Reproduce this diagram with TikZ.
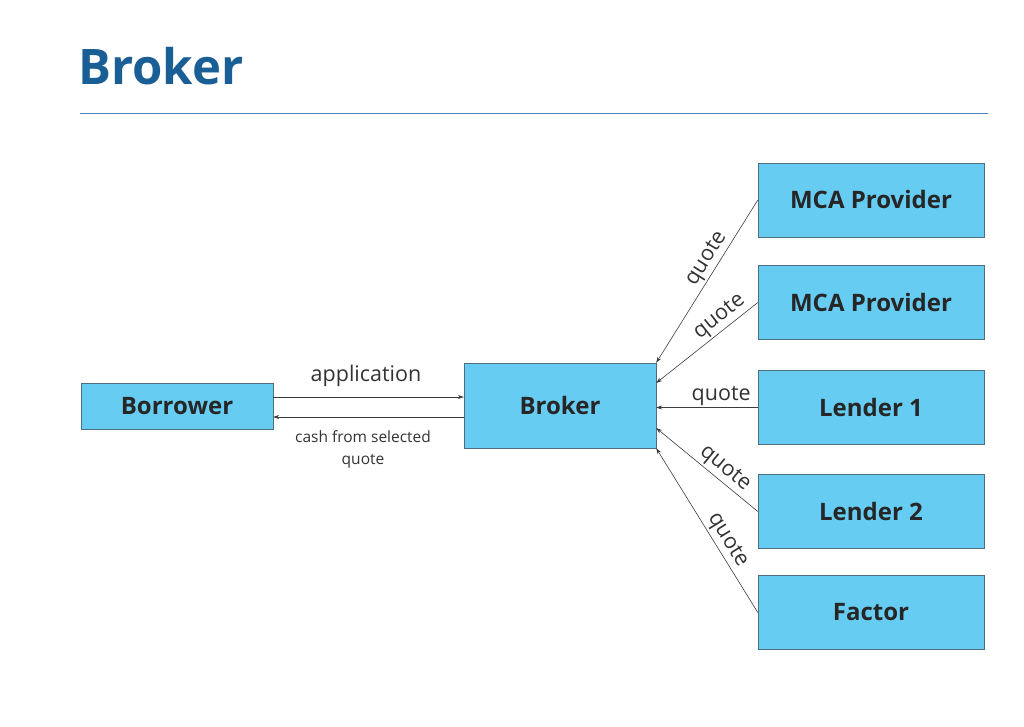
\documentclass[tikz,border=0pt]{standalone}
\usepackage{fontspec}
\setmainfont{Open Sans}
\usetikzlibrary{arrows.meta}
\definecolor{boxblue}{RGB}{102,204,242}
\definecolor{boxline}{RGB}{80,110,130}
\definecolor{titleblue}{RGB}{26,94,150}
\definecolor{ruleblue}{RGB}{70,130,185}
\definecolor{inkgray}{RGB}{60,60,60}
\begin{document}
\begin{tikzpicture}[x=1pt,y=-1pt,
	party/.style={draw=boxline,fill=boxblue,minimum width=192pt,minimum height=46pt,inner sep=0pt,font=\fontsize{24}{28}\selectfont\bfseries,text=black!85},
	source/.style={party,minimum width=226pt,minimum height=74pt},
	flow/.style={draw=inkgray,line width=0.6pt,-{Stealth[length=6pt,width=4pt]}},
	lbl/.style={font=\fontsize{21.5}{24}\selectfont,text=black!80,inner sep=2pt}]
	\useasboundingbox (0,0) rectangle (1024,727);

	\node[anchor=base west,inner sep=0pt,text=titleblue,font=\fontsize{49}{56}\selectfont\bfseries] at (78,85) (title) {Broker};
	\draw[ruleblue,line width=1pt] (80,114) -- (988,114); %rule under title

	\node[party] at (177,406) (borrower) {Borrower};
	\node[party,minimum height=85pt] at (560,405.5) (broker) {Broker};
	\node[source] at (871,200) (mca1) {MCA Provider};
	\node[source] at (871,302.5) (mca2) {MCA Provider};
	\node[source] at (871,407.5) (lender1) {Lender 1};
	\node[source] at (871,511.5) (lender2) {Lender 2};
	\node[source] at (871,612.5) (factor) {Factor};

	% borrower <-> broker
	\draw[flow] ([yshift=9pt]borrower.east) -- ([yshift=9pt]borrower.east -| broker.west);
	\draw[flow] ([yshift=-11.5pt]broker.west) -- ([yshift=-11.5pt]broker.west -| borrower.east);
	\node[lbl] at (366,376) (application) {application};
	\node[lbl,font=\fontsize{15.5}{22}\selectfont,align=center] at (363,449) (cash) {cash from selected\\quote};

	% quotes
	\draw[flow] (mca1.west) -- node[lbl,sloped,above,pos=0.4] {quote} (broker.north east);
	\draw[flow] (mca2.west) -- node[lbl,sloped,above,pos=0.3] {quote} ([yshift=22.5pt]broker.east);
	\draw[flow] (lender1.west) -- node[lbl,above,pos=0.36] {quote} (lender1.west -| broker.east);
	\draw[flow] (lender2.west) -- node[lbl,sloped,above,pos=0.4] {quote} ([yshift=-22.5pt]broker.east);
	\draw[flow] (factor.west) -- node[lbl,sloped,above,pos=0.4] {quote} (broker.south east);
\end{tikzpicture}
\end{document}
